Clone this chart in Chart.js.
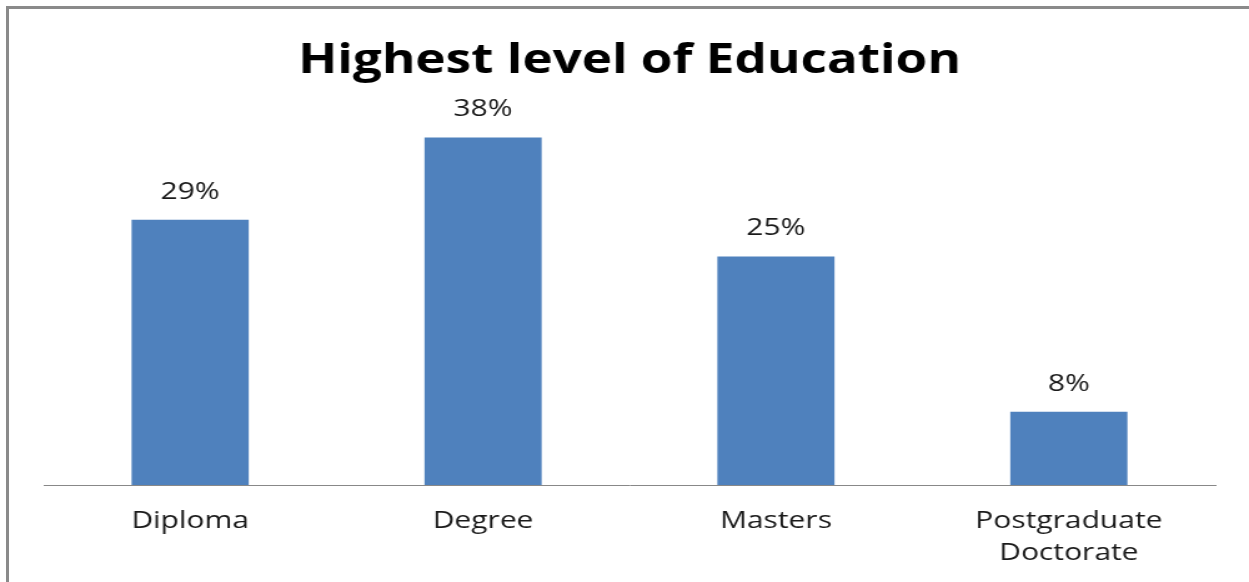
<!DOCTYPE html>
<html>
<head>
<meta charset="utf-8">
<script src="https://cdn.jsdelivr.net/npm/chart.js@4/dist/chart.umd.min.js"></script>
<style>
  html, body { margin: 0; padding: 0; background: #fff; }
  #wrap { position: relative; width: 1249px; height: 582px; overflow: hidden; }
  #frame { position: absolute; left: 6px; top: 6px; right: -10px; bottom: -10px;
           border-left: 3px solid #8a8a8a; border-top: 3px solid #8a8a8a; }
  /* chart is drawn narrow, then widened to fill the frame */
  canvas { position: absolute; left: 0; top: 0; transform: scaleX(1.249); transform-origin: 0 0; }
</style>
</head>
<body>
<div id="wrap">
  <div id="frame"></div>
  <canvas id="my-chart" width="1000" height="582"></canvas>
</div>
<script>
let categories = ['Diploma', 'Degree', 'Masters', ['Postgraduate', 'Doctorate']];
let shares = [29, 38, 25, 8];
let yTicks = [0, 10, 20, 30, 40];

// percent text above each bar
const barLabels = {
    id: 'barLabels',
    afterDatasetsDraw(chart) {
        const ctx = chart.ctx;
        const meta = chart.getDatasetMeta(0);
        ctx.save();
        ctx.font = '24px "Open Sans"';
        ctx.fillStyle = '#1a1a1a';
        ctx.textAlign = 'center';
        ctx.textBaseline = 'middle';
        meta.data.forEach(function (bar, i) {
            ctx.fillText(shares[i] + '%', bar.x, bar.y - 28);
        });
        ctx.restore();
    }
};

new Chart('my-chart', {
    type: 'bar',
    data: {
        labels: categories,
        datasets: [
            {
                label: 'Highest level of Education',
                data: shares,
                backgroundColor: '#4f81bd',
                borderWidth: 0,
                barPercentage: 0.4,
                categoryPercentage: 1
            }
        ]
    },
    options: {
        responsive: false,
        animation: false,
        layout: { padding: { left: 35, right: 27, top: 8, bottom: 0 } },
        plugins: {
            legend: { display: false },
            tooltip: { enabled: false },
            title: {
                display: true,
                text: 'Highest level of Education',
                color: '#000',
                font: { family: 'Open Sans', size: 41, weight: 'bold', lineHeight: 1.2 },
                padding: { top: 29, bottom: 33 }
            }
        },
        scales: {
            x: {
                grid: { display: false, drawTicks: false },
                border: { display: true, color: '#888', width: 1 },
                ticks: {
                    color: '#1a1a1a',
                    padding: 21,
                    maxRotation: 0,
                    font: { family: 'Open Sans', size: 24, lineHeight: 1.3 }
                },
                afterFit(scale) { scale.height = 97; }
            },
            y: {
                display: false,
                min: yTicks[0],
                max: yTicks[yTicks.length - 1]
            }
        }
    },
    plugins: [barLabels]
});
</script>
</body>
</html>
